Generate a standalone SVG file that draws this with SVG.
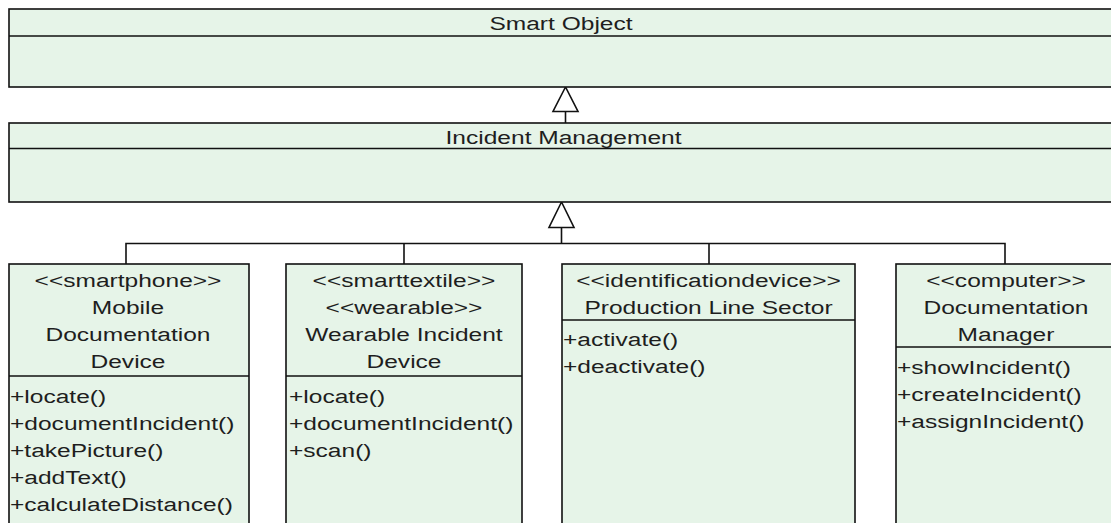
<svg xmlns="http://www.w3.org/2000/svg" width="1111" height="523" viewBox="0 0 1111 523">
<defs>
<style>
.box{fill:#e6f4e8;stroke:#111;stroke-width:1.6}
.div{stroke:#111;stroke-width:1.6;fill:none}
.t{font-family:"Liberation Sans",Arial,sans-serif;font-size:18.6px;fill:#1e1e1e}
.c{text-anchor:middle}
.conn{stroke:#111;stroke-width:1.6;fill:none}
.head{fill:#fff;stroke:#111;stroke-width:1.6}
</style>
</defs>
<rect width="1111" height="523" fill="#fff"/>
<g id="connectors">
<path class="conn" d="M565.5,111.5V123"/>
<polygon class="head" points="565.5,87 553,111.5 578,111.5"/>
<path class="conn" d="M561.5,227.5V243.5M126,264V243.5H1005V264M404,243.5V264M709,243.5V264"/>
<polygon class="head" points="561.5,202 549,227.5 574,227.5"/>
</g>
<g id="smart-object">
<rect class="box" x="9" y="9" width="1104" height="78"/>
<line class="div" x1="9" y1="36" x2="1113" y2="36"/>
<text class="t c" transform="matrix(1.32 0 0 1 561 30)" x="0" y="0">Smart Object</text>
</g>
<g id="incident-management">
<rect class="box" x="9" y="123" width="1104" height="79"/>
<line class="div" x1="9" y1="148.5" x2="1113" y2="148.5"/>
<text class="t c" transform="matrix(1.32 0 0 1 563.5 144)" x="0" y="0">Incident Management</text>
</g>
<g id="mobile-documentation-device">
<rect class="box" x="9" y="264" width="240" height="280"/>
<line class="div" x1="9" y1="376" x2="249" y2="376"/>
<text class="t c" transform="matrix(1.32 0 0 1 128 287)"><tspan x="0" y="0">&lt;&lt;smartphone&gt;&gt;</tspan><tspan x="0" dy="27">Mobile</tspan><tspan x="0" dy="27">Documentation</tspan><tspan x="0" dy="27">Device</tspan></text>
<text class="t" transform="matrix(1.32 0 0 1 10 403)"><tspan x="0" y="0">+locate()</tspan><tspan x="0" dy="27">+documentIncident()</tspan><tspan x="0" dy="27">+takePicture()</tspan><tspan x="0" dy="27">+addText()</tspan><tspan x="0" dy="27">+calculateDistance()</tspan></text>
</g>
<g id="wearable-incident-device">
<rect class="box" x="286" y="264" width="236" height="280"/>
<line class="div" x1="286" y1="376" x2="522" y2="376"/>
<text class="t c" transform="matrix(1.32 0 0 1 404 287)"><tspan x="0" y="0">&lt;&lt;smarttextile&gt;&gt;</tspan><tspan x="0" dy="27">&lt;&lt;wearable&gt;&gt;</tspan><tspan x="0" dy="27">Wearable Incident</tspan><tspan x="0" dy="27">Device</tspan></text>
<text class="t" transform="matrix(1.32 0 0 1 289 403)"><tspan x="0" y="0">+locate()</tspan><tspan x="0" dy="27">+documentIncident()</tspan><tspan x="0" dy="27">+scan()</tspan></text>
</g>
<g id="production-line-sector">
<rect class="box" x="562" y="264" width="293" height="280"/>
<line class="div" x1="562" y1="320" x2="855" y2="320"/>
<text class="t c" transform="matrix(1.32 0 0 1 708.5 287)"><tspan x="0" y="0">&lt;&lt;identificationdevice&gt;&gt;</tspan><tspan x="0" dy="27">Production Line Sector</tspan></text>
<text class="t" transform="matrix(1.32 0 0 1 563 346)"><tspan x="0" y="0">+activate()</tspan><tspan x="0" dy="27">+deactivate()</tspan></text>
</g>
<g id="documentation-manager">
<rect class="box" x="896" y="264" width="222" height="280"/>
<line class="div" x1="896" y1="347" x2="1118" y2="347"/>
<text class="t c" transform="matrix(1.32 0 0 1 1006 287)"><tspan x="0" y="0">&lt;&lt;computer&gt;&gt;</tspan><tspan x="0" dy="27">Documentation</tspan><tspan x="0" dy="27">Manager</tspan></text>
<text class="t" transform="matrix(1.32 0 0 1 897 374)"><tspan x="0" y="0">+showIncident()</tspan><tspan x="0" dy="27">+createIncident()</tspan><tspan x="0" dy="27">+assignIncident()</tspan></text>
</g>
</svg>
